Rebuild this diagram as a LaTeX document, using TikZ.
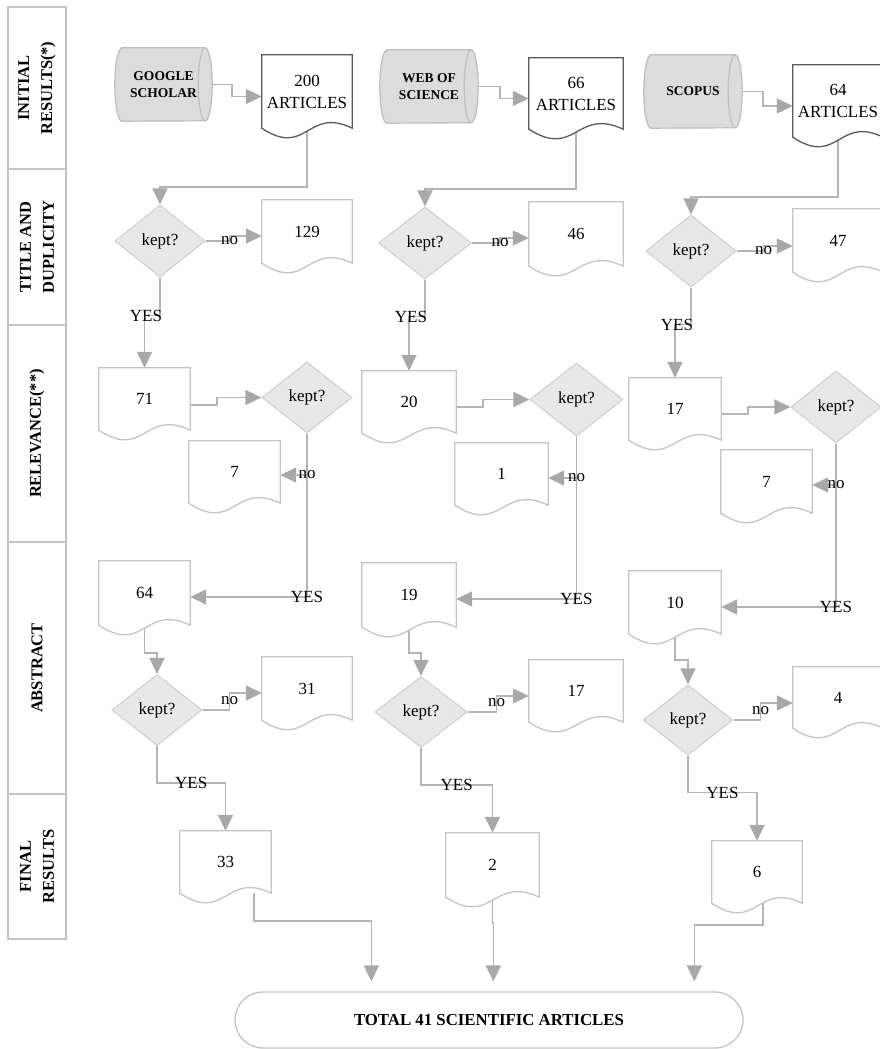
\documentclass[tikz,border=0pt]{standalone}
\usepackage{fontspec}
\setmainfont{Liberation Serif}
\usetikzlibrary{shapes.geometric,arrows.meta,calc}
\pgfdeclarelayer{bg}
\pgfdeclarelayer{mid}
\pgfsetlayers{bg,mid,main}
\definecolor{lineg}{HTML}{B4B4B4}
\definecolor{tipg}{HTML}{A8A8A8}
\definecolor{diaf}{HTML}{E8E8E8}
\definecolor{diad}{HTML}{D2D2D2}
\definecolor{cylf}{HTML}{DCDCDC}
\definecolor{cyld}{HTML}{BEBEBE}
\definecolor{docl}{HTML}{C4C4C4}
\definecolor{docd}{HTML}{5A5A5A}
\newcommand\docout[2]{\draw[#2] (#1.south west) -- (#1.north west) -- (#1.north east) -- (#1.south east) .. controls ($(#1.south)+(0,-22)$) and ($(#1.south)+(0,30)$) .. (#1.south west) -- cycle;}
\newcommand\cylout[1]{%
\draw[cylline] ($(#1.north west)+(7,0)$) -- ($(#1.north east)+(-7,0)$) arc[start angle=-90,end angle=90,x radius=7,y radius=36.5] -- ($(#1.south west)+(7,0)$) arc[start angle=90,end angle=270,x radius=7,y radius=36.5] -- cycle;
\draw[cylline,fill=none] ($(#1.north east)+(-7,0)$) arc[start angle=-90,end angle=-270,x radius=7,y radius=36.5];}
\begin{document}
\begin{tikzpicture}[x=1pt,y=-1pt,
  every node/.style={font=\fontsize{17}{22}\selectfont, inner sep=0pt},
  lane/.style={draw=docl, line width=1.3pt, rotate=90, minimum height=58, align=center, font=\fontsize{16.5}{23}\selectfont\bfseries},
  docn/.style={align=center},
  docdark/.style={draw=docd, fill=white, line width=1.3pt},
  doclight/.style={draw=docl, fill=white, line width=1.3pt},
  cyln/.style={minimum width=97, minimum height=73, align=center, font=\fontsize{13.5}{17}\selectfont\bfseries},
  cylline/.style={draw=cyld, fill=cylf, line width=1.2pt},
  dian/.style={shape=diamond, draw=diad, fill=diaf, line width=1.2pt, minimum width=90, minimum height=72},
  conn/.style={draw=lineg, line width=1.5pt, -{Triangle[length=16pt,width=15pt,color=tipg]}},
  lbl/.style={inner sep=0.5pt, font=\fontsize{17}{22}\selectfont}]
\useasboundingbox (0,0) rectangle (879,1049);
\begin{pgfonlayer}{bg}
\fill[white] (0,0) rectangle (879,1049);
\end{pgfonlayer}
% lanes
\node[lane, minimum width=162] (l1) at (37,88) {INITIAL\\RESULTS(*)};
\node[lane, minimum width=156] (l2) at (37,247) {TITLE AND\\DUPLICITY};
\node[lane, minimum width=217] (l3) at (37,433.5) {RELEVANCE(**)};
\node[lane, minimum width=252] (l4) at (37,668) {ABSTRACT};
\node[lane, minimum width=145] (l5) at (37,866.5) {FINAL\\RESULTS};
% databases
\node[cyln] (cyl1) at (163.5,84.5) {GOOGLE\\SCHOLAR};
\node[cyln, minimum width=98] (cyl2) at (429,86.5) {WEB OF\\SCIENCE};
\node[cyln, minimum width=98] (cyl3) at (693,91.5) {SCOPUS};
% documents
\node[docn, minimum width=90, minimum height=73] (d200) at (307,91.5) {200\\ARTICLES};
\node[docn, minimum width=94, minimum height=71] (d66) at (576,93.5) {66\\ARTICLES};
\node[docn, minimum width=90, minimum height=72] (d64a) at (838,101) {64\\ARTICLES};
\node[docn, minimum width=90, minimum height=63] (d129) at (307,231.5) {129};
\node[docn, minimum width=94, minimum height=64] (d46) at (576,234) {46};
\node[docn, minimum width=90, minimum height=63] (d47) at (838,240.5) {47};
\node[docn, minimum width=91, minimum height=62] (d71) at (144.5,399) {71};
\node[docn, minimum width=94, minimum height=62] (d20) at (409,402) {20};
\node[docn, minimum width=92, minimum height=62] (d17b) at (675,409) {17};
\node[docn, minimum width=91, minimum height=62] (d7a) at (234.5,472) {7};
\node[docn, minimum width=93, minimum height=62] (d1) at (501.5,474) {1};
\node[docn, minimum width=91, minimum height=63] (d7b) at (766.5,481.5) {7};
\node[docn, minimum width=91, minimum height=64] (d64) at (144.5,593) {64};
\node[docn, minimum width=94, minimum height=64] (d19) at (409,595) {19};
\node[docn, minimum width=92, minimum height=63] (d10) at (675,602.5) {10};
\node[docn, minimum width=90, minimum height=63] (d31) at (307,688.5) {31};
\node[docn, minimum width=94, minimum height=62] (d17) at (576,691) {17};
\node[docn, minimum width=90, minimum height=61] (d4) at (838,697.5) {4};
\node[docn, minimum width=91, minimum height=62] (d33) at (225.5,862) {33};
\node[docn, minimum width=93, minimum height=64] (d2) at (492.5,865) {2};
\node[docn, minimum width=90, minimum height=62] (d6) at (757,872) {6};
% decisions
\node[dian] (dia1) at (160,241) {kept?};
\node[dian, minimum width=93] (dia4) at (425,243) {kept?};
\node[dian] (dia7) at (691,251) {kept?};
\node[dian, minimum height=71] (dia2) at (307,397.5) {kept?};
\node[dian, minimum width=93, minimum height=73] (dia5) at (576.5,399.5) {kept?};
\node[dian] (dia8) at (836,407) {kept?};
\node[dian, minimum height=71] (dia3) at (157,710) {kept?};
\node[dian, minimum width=92, minimum height=71] (dia6) at (421,712) {kept?};
\node[dian, minimum height=70] (dia9) at (688,720) {kept?};
% total
\node[draw=docl, line width=1.3pt, rounded corners=28, minimum width=508, minimum height=56, font=\fontsize{16.8}{20}\selectfont\bfseries] (total) at (489,1020) {TOTAL 41 SCIENTIFIC ARTICLES};
% shapes drawn under texts
\begin{pgfonlayer}{mid}
\foreach \n in {d200,d66,d64a} {\docout{\n}{docdark}}
\foreach \n in {d129,d46,d47,d71,d20,d17b,d7a,d1,d7b,d64,d19,d10,d31,d17,d4,d33,d2,d6} {\docout{\n}{doclight}}
\cylout{cyl1}
\cylout{cyl2}
\cylout{cyl3}
\end{pgfonlayer}
% connectors
\begin{pgfonlayer}{bg}
% row 1
\draw[conn] ([xshift=-5]cyl1.east) -- ++(25,0) |- ([yshift=-5]d200.west);
\draw[conn] ([xshift=-5]cyl2.east) -- ++(27,0) |- ([yshift=-5]d66.west);
\draw[conn] ([xshift=-5]cyl3.east) -- ++(26,0) |- ([yshift=-5]d64a.west);
% column 1
\draw[conn] (d200.south) -- ++(0,59) -| (dia1.north);
\draw[conn] (dia1.south) -- ++(0,38) node[lbl,xshift=-14]{YES} -| (d71.north);
\draw[conn] (dia1.east) -- ++(24,0) node[lbl]{no} |- ([yshift=-4.5]d129.west);
\draw[conn] ([yshift=-6]d71.east) -- ++(27,0) |- (dia2.west);
\draw[conn] (dia2.south) |- node[lbl]{YES} ([yshift=-4]d64.east);
\draw[conn] (dia2.south) |- node[lbl]{no} ([yshift=-3]d7a.east);
\draw[conn] (d64.south) -- ++(0,28) -| (dia3.north);
\draw[conn] (dia3.east) -- ++(27,0) node[lbl,yshift=9]{no} |- ([yshift=-4.5]d31.west);
\draw[conn] (dia3.south) -- ++(0,37) -| node[lbl,pos=0.25]{YES} (d33.north);
\draw[conn] ([xshift=28.5]d33.south) -- ++(0,28) -| ($(total.north west)+(137,-10)$);
% column 2
\draw[conn] (d66.south) -- ++(0,60) -| (dia4.north);
\draw[conn] (dia4.south) -- ++(0,37) node[lbl,xshift=-14]{YES} -| (d20.north);
\draw[conn] (dia4.east) -- ++(28,0) node[lbl]{no} |- ([yshift=-4]d46.west);
\draw[conn] ([yshift=-5]d20.east) -- ++(27,0) |- (dia5.west);
\draw[conn] (dia5.south) |- node[lbl]{YES} ([yshift=-4]d19.east);
\draw[conn] (dia5.south) |- node[lbl]{no} ([yshift=-4]d1.east);
\draw[conn] (d19.south) -- ++(0,26) -| (dia6.north);
\draw[conn] (dia6.east) -- ++(29,0) node[lbl,yshift=9]{no} |- ([yshift=-5]d17.west);
\draw[conn] (dia6.south) -- ++(0,37) -| node[lbl,pos=0.25]{YES} (d2.north);
\draw[conn] (d2.south) -- ++(0,26) -| ($(total.north west)+(259,-10)$);
% column 3
\draw[conn] (d64a.south) -- ++(0,60) -| (dia7.north);
\draw[conn] (dia7.south) -- ++(0,37) node[lbl,xshift=-14]{YES} -| (d17b.north);
\draw[conn] (dia7.east) -- ++(27,0) node[lbl]{no} |- ([yshift=-5.5]d47.west);
\draw[conn] ([yshift=-5]d17b.east) -- ++(27,0) |- (dia8.west);
\draw[conn] (dia8.south) |- node[lbl]{YES} ([yshift=-4.5]d10.east);
\draw[conn] (dia8.south) |- node[lbl]{no} ([yshift=-3.5]d7b.east);
\draw[conn] (d10.south) -- ++(0,26) -| (dia9.north);
\draw[conn] (dia9.east) -- ++(27,0) node[lbl,yshift=9]{no} |- ([yshift=-5.5]d4.west);
\draw[conn] (dia9.south) -- ++(0,37) -| node[lbl,pos=0.25]{YES} (d6.north);
\draw[conn] ([xshift=6]d6.south) -- ++(0,22) -| ($(total.north west)+(460,-10)$);
\end{pgfonlayer}
\end{tikzpicture}
\end{document}
